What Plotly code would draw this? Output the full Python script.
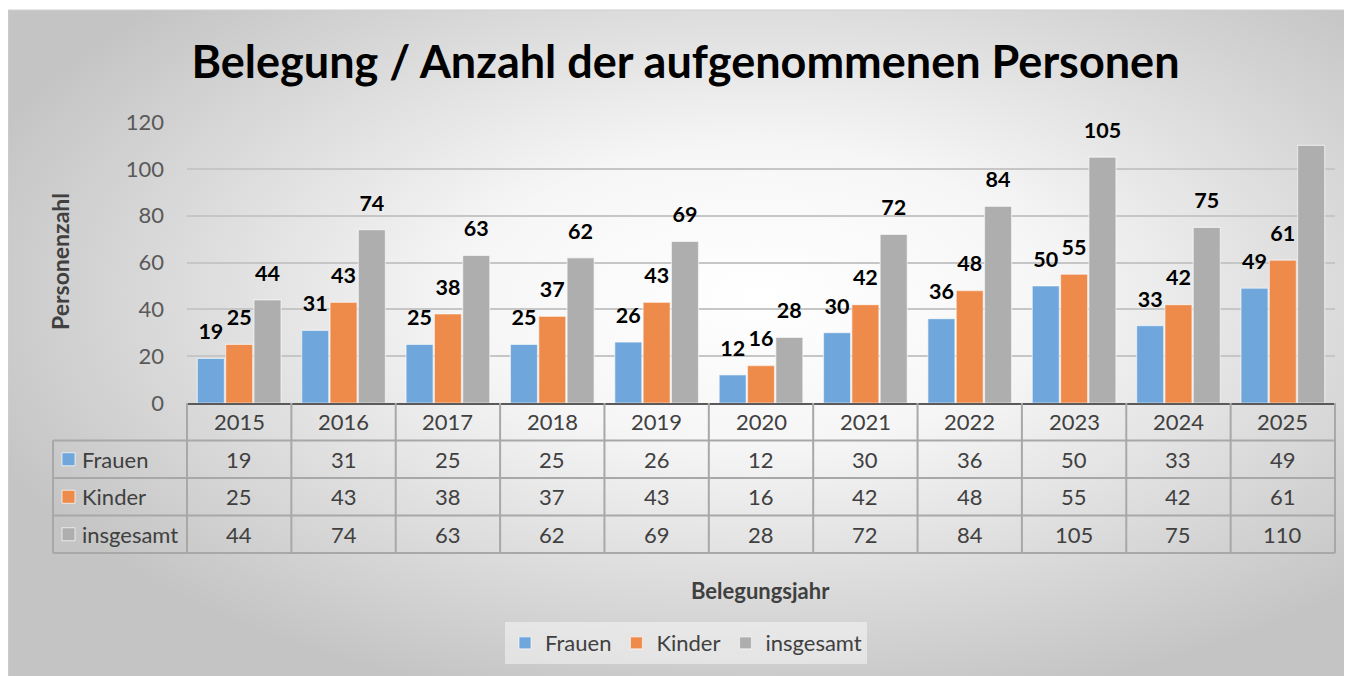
import urllib.parse
import plotly.graph_objects as go

# ---------------- data ----------------
years = [2015, 2016, 2017, 2018, 2019, 2020, 2021, 2022, 2023, 2024, 2025]
frauen = [19, 31, 25, 25, 26, 12, 30, 36, 50, 33, 49]
kinder = [25, 43, 38, 37, 43, 16, 42, 48, 55, 42, 61]
insgesamt = [44, 74, 63, 62, 69, 28, 72, 84, 105, 75, 110]
series_names = ["Frauen", "Kinder", "insgesamt"]
y_ticks = [0, 20, 40, 60, 80, 100, 120]
title_text = "Belegung / Anzahl der aufgenommenen Personen"
y_title = "Personenzahl"
x_title = "Belegungsjahr"

series_values = [frauen, kinder, insgesamt]
colors = ["#6FA6DB", "#EE8B4B", "#AEAEAE"]

# ---------------- layout geometry (screen px; page body has an 8px margin) ----------------
W, H = 1352, 676
OFF = 8
PLOT_L, PLOT_R, PLOT_T, PLOT_B = 187, 1335, 122, 403   # screen px
L = PLOT_L - OFF
R = W - (PLOT_R - OFF)
T = PLOT_T - OFF
B = H - (PLOT_B - OFF)
PW, PH = W - L - R, H - T - B
FONT = "Lato"
TXT = "#404040"


def px_x(p):
    return (p - PLOT_L) / (PLOT_R - PLOT_L)


def px_y(p):
    return (PLOT_B - p) / (PLOT_B - PLOT_T)


row_h = 37.5
row_tops = [PLOT_B + i * row_h for i in range(5)]
label_left = 53
x0 = years[0] - 0.5
ncat = len(years)

fig = go.Figure()

for name, vals, col in zip(series_names, series_values, colors):
    fig.add_trace(go.Bar(
        x=years, y=vals, name=name,
        marker=dict(color=col, line=dict(color="rgba(255,255,255,0.55)", width=1.2)),
        hoverinfo="skip",
    ))

# data labels (grouped scatter text aligned with bars)
label_offset = 10.5
for name, vals in zip(series_names, series_values):
    fig.add_trace(go.Scatter(
        x=years, y=[v + label_offset for v in vals], mode="text",
        text=[str(v) for v in vals], textposition="middle center",
        textfont=dict(family=FONT, size=21.5, color="#000000", weight=700),
        showlegend=False, hoverinfo="skip", cliponaxis=False,
    ))

shapes = []
annotations = []

# chart frame
shapes.append(dict(type="rect", xref="paper", yref="paper", layer="below",
                   x0=px_x(8), x1=px_x(1346), y0=px_y(10), y1=px_y(690),
                   line=dict(color="#cfcfcf", width=1)))

grid_col = "#a8a8a8"
# table vertical lines
for i in range(ncat + 1):
    xp = i / ncat
    shapes.append(dict(type="line", xref="paper", yref="paper",
                       x0=xp, x1=xp, y0=px_y(row_tops[0]), y1=px_y(row_tops[-1]),
                       line=dict(color=grid_col, width=2)))
shapes.append(dict(type="line", xref="paper", yref="paper",
                   x0=px_x(label_left), x1=px_x(label_left),
                   y0=px_y(row_tops[1]), y1=px_y(row_tops[-1]),
                   line=dict(color=grid_col, width=2)))
# table horizontal lines
for rt in row_tops[1:]:
    shapes.append(dict(type="line", xref="paper", yref="paper",
                       x0=px_x(label_left), x1=1, y0=px_y(rt), y1=px_y(rt),
                       line=dict(color=grid_col, width=2)))

cell_font = dict(family=FONT, size=22, color=TXT)
# header row (years)
for yr in years:
    annotations.append(dict(x=yr, xref="x", y=px_y(row_tops[0] + row_h / 2), yref="paper",
                            text=str(yr), showarrow=False, xanchor="center", yanchor="middle",
                            font=cell_font))
# value rows
for r, (name, vals, col) in enumerate(zip(series_names, series_values, colors)):
    cy = row_tops[r + 1] + row_h / 2
    ymid = px_y(cy)
    for yr, v in zip(years, vals):
        annotations.append(dict(x=yr, xref="x", y=ymid, yref="paper",
                                text=str(v), showarrow=False, xanchor="center", yanchor="middle",
                                font=cell_font))
    # legend key + label
    shapes.append(dict(type="rect", xref="paper", yref="paper",
                       x0=px_x(62), x1=px_x(75), y0=px_y(cy - 6.5), y1=px_y(cy + 6.5),
                       fillcolor=col, line=dict(color="rgba(255,255,255,0.7)", width=1)))
    annotations.append(dict(x=px_x(80), xref="paper", y=ymid, yref="paper",
                            text=name, showarrow=False, xanchor="left", yanchor="middle",
                            font=cell_font))

# axis titles
annotations.append(dict(x=px_x(60), xref="paper", y=px_y(262), yref="paper",
                        text=y_title, textangle=-90, showarrow=False,
                        xanchor="center", yanchor="middle",
                        font=dict(family=FONT, size=23, color=TXT, weight=700)))
annotations.append(dict(x=px_x(760), xref="paper", y=px_y(590), yref="paper",
                        text=x_title, showarrow=False, xanchor="center", yanchor="middle",
                        font=dict(family=FONT, size=22, color=TXT, weight=700)))

# radial gradient background
svg = ("<svg xmlns='http://www.w3.org/2000/svg' width='1338' height='680' preserveAspectRatio='none'>"
       "<defs><radialGradient id='g' cx='56%' cy='42%' r='62%'>"
       "<stop offset='0%' stop-color='#ffffff'/>"
       "<stop offset='35%' stop-color='#f6f6f6'/>"
       "<stop offset='100%' stop-color='#c4c4c4'/>"
       "</radialGradient></defs>"
       "<rect width='1338' height='680' fill='url(#g)'/></svg>")
src = "data:image/svg+xml;charset=utf-8," + urllib.parse.quote(svg)

title_center_y = 62 - OFF
fig.update_layout(
    width=W, height=H,
    margin=dict(l=L, r=R, t=T, b=B, pad=0),
    paper_bgcolor="#ffffff", plot_bgcolor="rgba(0,0,0,0)",
    font=dict(family=FONT, color=TXT),
    barmode="group", bargap=0.186, bargroupgap=0.045,
    scattermode="group",
    title=dict(text=title_text, x=(685.5 - OFF) / W, xref="container", xanchor="center",
               y=1 - title_center_y / H, yref="container", yanchor="middle",
               font=dict(family=FONT, size=45, color="#000000", weight=700)),
    xaxis=dict(range=[x0, years[-1] + 0.5], showticklabels=False, ticks="",
               showgrid=False, zeroline=False, showline=True,
               linecolor="#5a5a5a", linewidth=2, fixedrange=True),
    yaxis=dict(range=[y_ticks[0], y_ticks[-1]], tickvals=y_ticks,
               tickfont=dict(family=FONT, size=22, color="#595959"),
               ticklabelstandoff=22, showgrid=True, gridcolor="#c6c6c6", gridwidth=1.5,
               zeroline=False, showline=False, ticks=""),
    legend=dict(orientation="h", x=px_x(686), xanchor="center",
                y=px_y(643), yanchor="middle", bgcolor="rgba(255,255,255,0.45)",
                font=dict(family=FONT, size=22, color=TXT), itemwidth=30,
                traceorder="normal"),
    shapes=shapes, annotations=annotations,
    images=[dict(source=src, xref="paper", yref="paper", x=px_x(8), y=px_y(10),
                 sizex=1338 / PW, sizey=680 / PH, sizing="stretch", layer="below",
                 xanchor="left", yanchor="top")],
    hovermode=False,
)

fig.write_html("out.html")
